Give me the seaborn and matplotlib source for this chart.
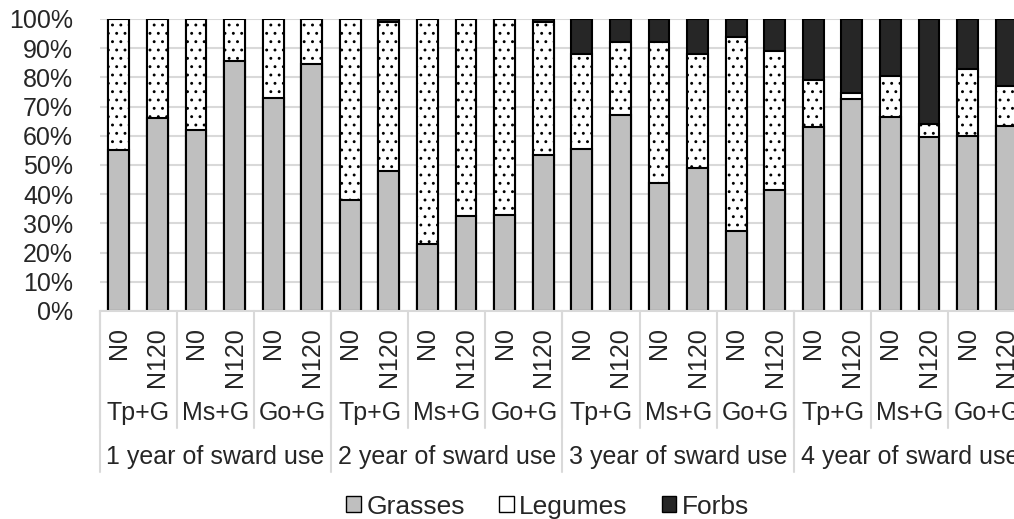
import pandas as pd
import seaborn as sns
import matplotlib.pyplot as plt
from matplotlib.patches import Patch

# values (percent of sward)
years = ["1 year of sward use", "2 year of sward use", "3 year of sward use", "4 year of sward use"]
mixtures = ["Tp+G", "Ms+G", "Go+G"]
n_rates = ["N0", "N120"]

grasses = [55, 66, 62, 85.5, 73, 84.5,
           38, 48, 23, 32.5, 33, 53.5,
           55.5, 67, 44, 49, 27.5, 41.5,
           63, 72.5, 66.5, 59.5, 60, 63.5]
legumes = [45, 34, 38, 14.5, 27, 15.5,
           62, 51, 77, 67.5, 67, 45.5,
           32.5, 25, 48, 39, 66.5, 47.5,
           16, 2, 14, 4.5, 23, 13.5]
forbs = [0, 0, 0, 0, 0, 0,
         0, 1, 0, 0, 0, 1,
         12, 8, 8, 12, 6, 11,
         21, 25.5, 19.5, 36, 17, 23]

col_grass = "#BFBFBF"
col_leg = "white"
col_forb = "#262626"

rows = []
i = 0
for y in years:
    for m in mixtures:
        for n in n_rates:
            rows.append({"key": f"{y}|{m}|{n}", "year": y, "mix": m, "n": n,
                         "grasses": grasses[i], "legumes": legumes[i], "forbs": forbs[i]})
            i += 1
df = pd.DataFrame(rows)
df["gl"] = df["grasses"] + df["legumes"]
df["total"] = df["gl"] + df["forbs"]
order = list(df["key"])

sns.set_style("white")
plt.rcParams["font.family"] = ["Liberation Sans", "DejaVu Sans"]
plt.rcParams["hatch.linewidth"] = 0.9
plt.rcParams["hatch.color"] = "black"

fig = plt.figure(figsize=(10.14, 5.19), dpi=100)
ax = fig.add_axes([99.5 / 1014, 208 / 519, 926 / 1014, 292 / 519])

common = dict(data=df, x="key", order=order, width=0.54, saturation=1,
              edgecolor="black", linewidth=1.5, ax=ax)
# stacked by overdrawing cumulative totals
sns.barplot(y="total", color=col_forb, **common)
sns.barplot(y="gl", color=col_leg, hatch="..", **common)
sns.barplot(y="grasses", color=col_grass, **common)

ax.set_ylim(0, 100)
ax.set_xlim(-0.5, len(order) - 0.5)
ax.set_yticks(range(0, 101, 10))
ax.set_yticklabels([f"{v}%" for v in range(0, 101, 10)], fontsize=18)
ax.tick_params(axis="y", length=0, pad=19)
ax.set_xticks([])
ax.set_xlabel("")
ax.set_ylabel("")
ax.yaxis.grid(True, color="#D9D9D9", linewidth=1.5)
ax.set_axisbelow(True)
for s in ["top", "right", "left"]:
    ax.spines[s].set_visible(False)
ax.spines["bottom"].set_color("#D9D9D9")
ax.spines["bottom"].set_linewidth(1.5)

# multi-level category axis
tr = ax.get_xaxis_transform()
line_kw = dict(color="#D9D9D9", linewidth=1.5, clip_on=False, transform=tr)
y_n = -0.055
y_mix = -0.35
y_year = -0.50
y_sep_mix = -0.40
y_sep_year = -0.55
for k, row in df.iterrows():
    ax.text(k, y_n, row["n"], rotation=90, ha="center", va="top",
            fontsize=18, transform=tr)
for g in range(len(years) * len(mixtures)):
    ax.text(2 * g + 0.5, y_mix, mixtures[g % 3], ha="center", va="center",
            fontsize=18, transform=tr)
    ax.plot([2 * g - 0.5, 2 * g - 0.5], [0, y_sep_mix], **line_kw)
for yi, y in enumerate(years):
    ax.text(6 * yi + 2.5, y_year, y, ha="center", va="center",
            fontsize=18, transform=tr)
    ax.plot([6 * yi - 0.5, 6 * yi - 0.5], [0, y_sep_year], **line_kw)
ax.plot([23.5, 23.5], [0, y_sep_year], **line_kw)

handles = [Patch(facecolor=col_grass, edgecolor="black", linewidth=1),
           Patch(facecolor=col_leg, edgecolor="black", linewidth=1),
           Patch(facecolor=col_forb, edgecolor="black", linewidth=1)]
fig.legend(handles, ["Grasses", "Legumes", "Forbs"], loc="center",
           bbox_to_anchor=(0.54, 0.024), ncol=3, frameon=False, fontsize=19,
           handlelength=0.55, handleheight=0.55, handletextpad=0.2,
           columnspacing=1.3)

fig.savefig("out.png", dpi=100, facecolor="white")
